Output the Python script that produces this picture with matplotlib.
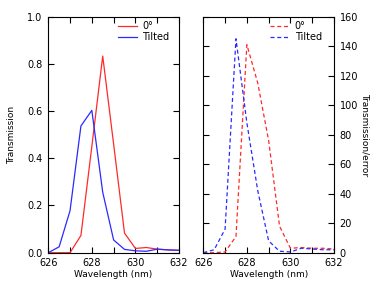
import matplotlib
matplotlib.use("Agg")
import matplotlib.pyplot as plt
from matplotlib.ticker import MultipleLocator

# Left panel: transmission
wl_left = [626, 626.5, 627, 627.5, 628, 628.5, 629, 629.5, 630, 630.5, 631, 631.5, 632]
trans_0 = [0, 0, 0, 0.073, 0.45, 0.833, 0.46, 0.083, 0.018, 0.022, 0.015, 0.012, 0.01]
trans_tilt = [0, 0.025, 0.178, 0.537, 0.603, 0.256, 0.054, 0.014, 0.008, 0.006, 0.015, 0.012, 0.01]

# Right panel: transmission / error
wl_right = [626, 626.5, 627, 627.5, 628, 628.5, 629, 629.5, 630, 630.5, 631, 631.5, 632]
te_0 = [0, 0, 0.5, 11, 141, 115, 76, 18, 3, 3.5, 3, 3, 2.5]
te_tilt = [0, 2, 16, 145, 88, 42, 8, 1, 0.5, 3, 2.5, 2, 2]

labels = ["0°", "Tilted"]
xticks = [626, 628, 630, 632]

plt.rcParams['font.family'] = ['DejaVu Sans']
fig = plt.figure(figsize=(3.74, 2.87), dpi=100)
ax1 = fig.add_axes([0.129, 0.1195, 0.3496, 0.8225])
ax2 = fig.add_axes([0.5436, 0.1195, 0.3494, 0.8225])

red = '#ff2a2a'
blue = '#2a2aff'
lw = 0.9

ax1.plot(wl_left, trans_0, color=red, lw=lw, label=labels[0])
ax1.plot(wl_left, trans_tilt, color=blue, lw=lw, label=labels[1])
ax2.plot(wl_right, te_0, color=red, lw=lw, ls=(0, (3.2, 2.2)), label=labels[0])
ax2.plot(wl_right, te_tilt, color=blue, lw=lw, ls=(0, (3.2, 2.2)), label=labels[1])

for ax, dx in ((ax1, 0.04), (ax2, 0.06)):
    ax.set_xlim(626, 632)
    ax.xaxis.set_major_locator(MultipleLocator(2))
    ax.xaxis.set_minor_locator(MultipleLocator(1))
    ax.tick_params(axis='both', which='both', direction='in', top=True, bottom=True,
                   left=True, right=True, length=4.5, width=0.8, labelsize=7, pad=4)
    ax.set_xticks(xticks)
    for s in ax.spines.values():
        s.set_linewidth(0.8)
    ax.set_xlabel("Wavelength (nm)", fontsize=6.5, labelpad=1)
    ax.legend(loc='upper right', bbox_to_anchor=(1 - dx, 1), frameon=False,
              fontsize=7, handlelength=2.0, handletextpad=0.5,
              borderaxespad=0.15, labelspacing=0.15, borderpad=0.3)

ax1.set_ylim(0, 1.0)
ax1.yaxis.set_major_locator(MultipleLocator(0.2))
ax1.yaxis.set_major_formatter(matplotlib.ticker.FormatStrFormatter('%.1f'))
ax1.set_ylabel("Transmission", fontsize=6.5, labelpad=8)

ax2.set_ylim(0, 160)
ax2.yaxis.set_major_locator(MultipleLocator(20))
ax2.tick_params(axis='y', labelleft=False, labelright=True)
ax2.yaxis.set_label_position('right')
ax2.set_ylabel("Transmission/error", fontsize=6.5, rotation=270, labelpad=8)

fig.savefig("out.png", dpi=100)
